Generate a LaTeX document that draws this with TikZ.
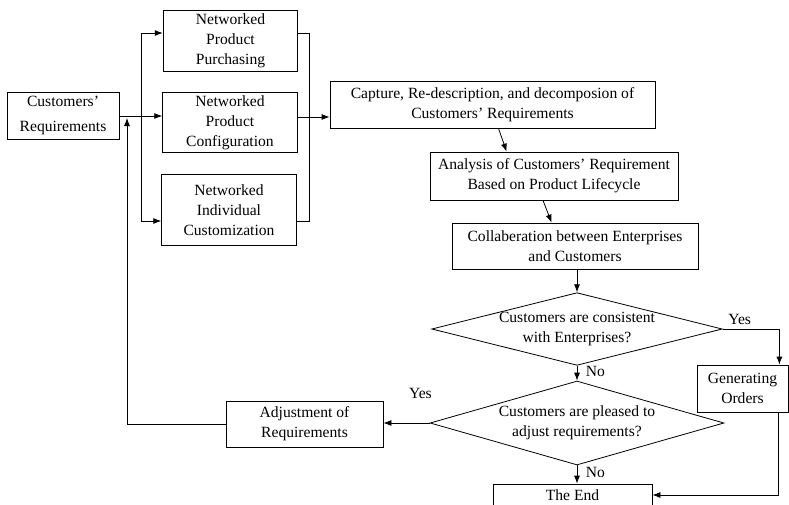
\documentclass[tikz,border=0pt]{standalone}
\usepackage{fontspec}
\setmainfont{Liberation Serif}
\usetikzlibrary{arrows.meta, shapes.geometric, calc}

\begin{document}
\begin{tikzpicture}[
  x=0.75pt, y=-0.75pt,
  font=\fontsize{11.7}{15}\selectfont,
  box/.style={rectangle, draw, line width=0.6pt, align=center, inner sep=2pt},
  net/.style={box, minimum width=101pt},
  dec/.style={diamond, draw, line width=0.6pt, align=center, inner sep=0pt},
  arr/.style={-{Latex[length=6pt, width=4.5pt]}, line width=0.6pt},
  lin/.style={line width=0.6pt}
]
\useasboundingbox (0,0) rectangle (789,504);
% requirements and the three networked channels
\node[box, minimum width=84pt, minimum height=35.25pt] (cust) at (63,115.5)
  {Customers'\\[4pt] Requirements};
\node[net, minimum height=45.75pt] (purch) at (230.5,40.5)
  {Networked\\ Product\\ Purchasing};
\node[net, minimum height=44.25pt] (config) at (230,122.5)
  {Networked\\ Product\\ Configuration};
\node[net, minimum height=53.25pt] (custom) at (229,210)
  {Networked\\ Individual\\ Customization};
% main chain
\node[box, minimum width=243.75pt, minimum height=35.25pt] (capture) at (492.5,104.5)
  {Capture, Re-description, and decomposion of\\ Customers' Requirements};
\node[box, minimum width=186pt, minimum height=36pt] (analysis) at (554,176)
  {Analysis of Customers' Requirement\\ Based on Product Lifecycle};
\node[box, minimum width=184.5pt, minimum height=34.5pt] (collab) at (575,246)
  {Collaberation between Enterprises\\ and Customers};
\node[dec, aspect=4] (consist) at (577,329)
  {Customers are consistent\\ with Enterprises?};
\node[dec, aspect=3.5, inner sep=1.5pt] (pleased) at (577,423)
  {Customers are pleased to\\ adjust requirements?};
\node[box, minimum width=68.25pt, minimum height=35.25pt] (gen) at (742.5,388.5)
  {Generating\\ Orders};
\node[box, minimum width=117.75pt, minimum height=34.5pt] (adj) at (304.5,424)
  {Adjustment of\\ Requirements};
\node[box, minimum width=119.25pt, minimum height=16.5pt] (end) at (572.5,495)
  {The End};
% split and merge of the channels
\coordinate (split) at (141,116);
\coordinate (merge) at (309,117);
\coordinate (topy) at (0,33);
\coordinate (boty) at (0,221);
\coordinate (fb) at (127,118);
\draw[lin] (cust.east |- split) -- (split);
\draw[arr] (split) -- (config.west |- split);
\draw[arr] (split) |- (purch.west |- topy);
\draw[arr] (split) |- (custom.west |- boty);
\draw[lin] (purch.east |- topy) -| (merge);
\draw[lin] (custom.east |- boty) -| (merge);
\draw[lin] (config.east |- merge) -- (merge);
\draw[arr] (merge) -- (capture.west |- merge);
\draw[arr] ($(capture.south)+(6,0)$) -- ($(analysis.north west)+(77,0)$);
\draw[arr] ($(analysis.south)+(-11,0)$) -- ($(collab.north west)+(100,0)$);
\draw[arr] (collab.south -| consist.north) -- (consist.north);
% decisions
\draw[arr] (consist.south) -- node[right, xshift=3pt, pos=0.4]{No} (pleased.north);
\draw[arr] (consist.east) -| node[above, pos=0.15]{Yes} ($(gen.north east)+(-9,0)$);
\draw[arr] (pleased.south) -- node[right, xshift=3pt, pos=0.4]{No} (pleased.south |- end.north);
\draw[arr] (pleased.west) -- node[above=15pt, pos=0.2]{Yes} (adj.east |- pleased.west);
\draw[arr] ($(gen.south east)+(-10,0)$) |- (end.east);
\draw[arr] (adj.west) -| (fb);
\end{tikzpicture}
\end{document}
